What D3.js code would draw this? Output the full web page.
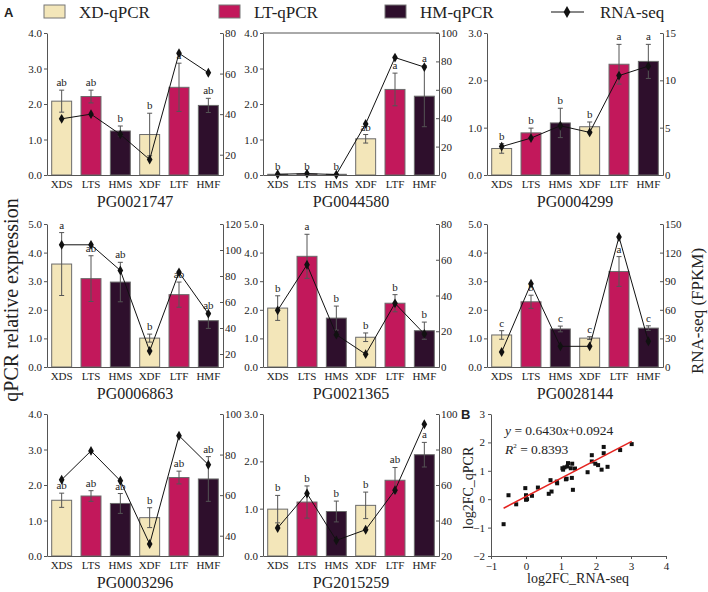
<!DOCTYPE html>
<html>
<head>
<meta charset="utf-8">
<script src="https://cdn.jsdelivr.net/npm/d3@7"></script>
<style>
  html, body { margin: 0; padding: 0; background: #fff; }
  svg text { font-family: "Liberation Serif", "Times New Roman", Times, serif; fill: #222; }
</style>
</head>
<body>
<div id="chart"></div>
<script>
// sample groups and gene panels
const categories = ["XDS", "LTS", "HMS", "XDF", "LTF", "HMF"]
const genes = ["PG0021747", "PG0044580", "PG0004299", "PG0006863", "PG0021365", "PG0028144", "PG0003296", "PG2015259"]

// qPCR relative expression (bars) and their error bars
const qpcrMeans = [
  [2.08, 2.21, 1.24, 1.14, 2.47, 1.96],
  [0.02, 0.03, 0.02, 1.02, 2.41, 2.22],
  [0.56, 0.89, 1.10, 1.02, 2.34, 2.40],
  [3.60, 3.09, 2.97, 1.01, 2.53, 1.62],
  [2.06, 3.87, 1.71, 1.04, 2.23, 1.27],
  [1.12, 2.28, 1.33, 1.01, 3.34, 1.36],
  [1.57, 1.69, 1.48, 1.08, 2.21, 2.17],
  [0.99, 1.14, 0.94, 1.07, 1.60, 2.14]
]
const qpcrErrors = [
  [0.31, 0.18, 0.14, 0.60, 0.68, 0.20],
  [0.00, 0.00, 0.00, 0.12, 0.46, 0.86],
  [0.10, 0.10, 0.31, 0.10, 0.42, 0.36],
  [1.10, 0.80, 0.69, 0.14, 0.44, 0.27],
  [0.43, 0.77, 0.42, 0.15, 0.30, 0.30],
  [0.15, 0.23, 0.10, 0.05, 0.52, 0.08],
  [0.20, 0.15, 0.28, 0.28, 0.18, 0.63],
  [0.29, 0.34, 0.22, 0.28, 0.27, 0.26]
]
const sigLetters = [
  ["ab", "ab", "b", "b", "a", "ab"],
  ["b", "b", "b", "ab", "a", "a"],
  ["b", "b", "b", "b", "a", "a"],
  ["a", "ab", "ab", "b", "ab", "ab"],
  ["b", "a", "b", "b", "b", "b"],
  ["c", "b", "c", "c", "a", "c"],
  ["ab", "ab", "ab", "b", "ab", "ab"],
  ["b", "b", "b", "b", "ab", "a"]
]

// RNA-seq FPKM (line)
const rnaSeq = [
  [37.7, 40.0, 30.0, 17.6, 70.0, 60.4],
  [0.5, 1.0, 0.3, 36.0, 82.7, 76.0],
  [3.0, 3.9, 5.2, 4.5, 10.5, 11.5],
  [104, 104, 84.3, 22.3, 82.8, 51.0],
  [31.7, 57.2, 18.1, 7.2, 35.6, 18.5],
  [15.7, 87.4, 21.7, 21.7, 136.4, 27.0],
  [67.6, 81.8, 67.1, 35.9, 89.3, 75.0],
  [35.8, 55.2, 28.8, 34.8, 57.1, 94.2]
]

// axis ranges and tick labels
const leftTicks = [
  [0, 1, 2, 3, 4], [0, 1, 2, 3, 4], [0, 1, 2, 3],
  [0, 1, 2, 3, 4, 5], [0, 1, 2, 3, 4, 5], [0, 1, 2, 3, 4, 5],
  [0, 1, 2, 3, 4], [0, 1, 2, 3]
]
const rightRanges = [[10, 80], [0, 100], [0, 15], [10, 120], [0, 80], [0, 150], [30, 100], [20, 100]]
const rightTicks = [
  [20, 40, 60, 80], [0, 20, 40, 60, 80, 100], [0, 5, 10, 15],
  [20, 40, 60, 80, 100, 120], [0, 20, 40, 60, 80], [0, 30, 60, 90, 120, 150],
  [40, 60, 80, 100], [20, 40, 60, 80, 100]
]

// panel B: log2 fold changes
const scatterRna = [-0.64, -0.50, -0.28, -0.02, 0.00, 0.00, 0.03, 0.17, 0.34, 0.65, 0.70, 0.73, 0.89, 0.88,
  1.04, 1.06, 1.10, 1.14, 1.16, 1.18, 1.20, 1.28, 1.31, 1.32, 1.34, 1.40, 1.76, 1.88, 1.88, 1.98, 2.06,
  2.16, 2.22, 2.22, 2.33, 2.69, 3.02]
const scatterQpcr = [-0.88, 0.14, -0.18, 0.39, 0.14, -0.02, 0.00, 0.12, 0.41, 0.19, 0.67, 0.27, 0.56, 0.62,
  1.09, 1.04, 1.12, 0.70, 0.72, 1.15, 1.27, 1.09, 0.75, 1.25, 0.33, 1.08, 0.95, 1.55, 1.33, 1.25, 1.20,
  1.04, 1.84, 1.62, 1.14, 1.73, 1.94]
const fitSlope = 0.6430
const fitIntercept = 0.0924

const groupColors = ["#f3e6b9", "#c2185b", "#2e0f2c"]
const legendItems = ["XD-qPCR", "LT-qPCR", "HM-qPCR"]

const SERIF = "'Liberation Serif', 'Times New Roman', Times, serif"
const width = 708
const height = 592

const svg = d3.select("#chart")
  .append("svg")
  .attr("width", width)
  .attr("height", height)

const colX = [47, 263, 487]
const rowY = [[33, 175], [224, 367], [414, 556]]
const panelW = 176

function styleAxis(ax, size) {
  ax.attr("font-family", null)
  ax.selectAll("text")
    .style("font-size", size)
    .style("font-family", SERIF)
    .attr("fill", "#333")
  ax.selectAll("line, path").attr("stroke", "#555")
}

// Legend
svg.append("text")
  .attr("x", 4).attr("y", 17)
  .style("font-family", "'Liberation Sans', Arial, sans-serif")
  .style("font-weight", "bold").style("font-size", "13px")
  .text("A")

const legendX = [44, 219, 385]
legendItems.forEach((name, i) => {
  svg.append("rect")
    .attr("x", legendX[i]).attr("y", 5)
    .attr("width", 21).attr("height", 13)
    .attr("fill", groupColors[i])
    .attr("stroke", "#777").attr("stroke-width", 1)
  svg.append("text")
    .attr("x", legendX[i] + 35).attr("y", 18)
    .style("font-size", "17px")
    .text(name)
})
svg.append("line")
  .attr("x1", 551).attr("x2", 584).attr("y1", 12).attr("y2", 12)
  .attr("stroke", "#111").attr("stroke-width", 1.2)
svg.append("path")
  .attr("transform", "translate(567,12)")
  .attr("d", d3.symbol(d3.symbolDiamond, 40)())
  .attr("fill", "#111")
svg.append("text")
  .attr("x", 600).attr("y", 18)
  .style("font-size", "17px")
  .text("RNA-seq")

// Bar + line panels
genes.forEach((gene, i) => {
  const col = i % 3
  const row = Math.floor(i / 3)
  const x0 = colX[col]
  const [top, bottom] = rowY[row]

  const x = d3.scaleBand()
    .domain(categories)
    .range([x0, x0 + panelW])
    .paddingInner(0.32)
    .paddingOuter(0.16)

  const ticksL = leftTicks[i]
  const yL = d3.scaleLinear()
    .domain([0, ticksL[ticksL.length - 1]])
    .range([bottom, top])

  const yR = d3.scaleLinear()
    .domain(rightRanges[i])
    .range([bottom, top])

  const g = svg.append("g")

  // bars
  g.selectAll("rect.bar")
    .data(categories)
    .join("rect")
    .attr("class", "bar")
    .attr("x", d => x(d))
    .attr("width", x.bandwidth())
    .attr("y", (d, j) => yL(qpcrMeans[i][j]))
    .attr("height", (d, j) => yL(0) - yL(qpcrMeans[i][j]))
    .attr("fill", (d, j) => groupColors[j % 3])
    .attr("stroke", "#6b6b6b")
    .attr("stroke-width", 1)

  // error bars
  const errG = g.append("g").attr("stroke", "#555").attr("stroke-width", 1)
  categories.forEach((c, j) => {
    const e = qpcrErrors[i][j]
    if (e <= 0) return
    const cx = x(c) + x.bandwidth() / 2
    const hi = yL(qpcrMeans[i][j] + e)
    const lo = yL(Math.max(0, qpcrMeans[i][j] - e))
    errG.append("line").attr("x1", cx).attr("x2", cx).attr("y1", hi).attr("y2", lo)
    errG.append("line").attr("x1", cx - 2.5).attr("x2", cx + 2.5).attr("y1", hi).attr("y2", hi)
    errG.append("line").attr("x1", cx - 2.5).attr("x2", cx + 2.5).attr("y1", lo).attr("y2", lo)
  })

  // significance letters
  g.selectAll("text.sig")
    .data(categories)
    .join("text")
    .attr("class", "sig")
    .attr("x", d => x(d) + x.bandwidth() / 2)
    .attr("y", (d, j) => yL(qpcrMeans[i][j] + qpcrErrors[i][j]) - 4)
    .attr("text-anchor", "middle")
    .style("font-size", "11px")
    .text((d, j) => sigLetters[i][j])

  // RNA-seq line
  const line = d3.line()
    .x((d, j) => x(categories[j]) + x.bandwidth() / 2)
    .y(d => yR(d))
  g.append("path")
    .datum(rnaSeq[i])
    .attr("d", line)
    .attr("fill", "none")
    .attr("stroke", "#111")
    .attr("stroke-width", 1)
  g.selectAll("path.pt")
    .data(rnaSeq[i])
    .join("path")
    .attr("class", "pt")
    .attr("transform", (d, j) => `translate(${x(categories[j]) + x.bandwidth() / 2},${yR(d)})`)
    .attr("d", d3.symbol(d3.symbolDiamond, 28)())
    .attr("fill", "#111")

  // axes: left ticks point out, right ticks point in
  const axL = g.append("g")
    .attr("transform", `translate(${x0},0)`)
    .call(d3.axisLeft(yL).tickValues(ticksL).tickFormat(d3.format(".1f")).tickSizeInner(3).tickSizeOuter(0).tickPadding(2))
  const axR = g.append("g")
    .attr("transform", `translate(${x0 + panelW},0)`)
    .call(d3.axisRight(yR).tickValues(rightTicks[i]).tickSizeInner(-3).tickSizeOuter(0).tickPadding(2))
  const axB = g.append("g")
    .attr("transform", `translate(0,${bottom})`)
    .call(d3.axisBottom(x).tickSize(0).tickPadding(5))

  styleAxis(axL, "11px")
  styleAxis(axR, "11px")
  styleAxis(axB, "11px")
  axB.selectAll("text").attr("fill", "#222")

  // second panel is boxed on top
  if (i === 1) {
    g.append("line")
      .attr("x1", x0).attr("x2", x0 + panelW)
      .attr("y1", top).attr("y2", top)
      .attr("stroke", "#555")
  }

  g.append("text")
    .attr("x", x0 + panelW / 2)
    .attr("y", bottom + 32)
    .attr("text-anchor", "middle")
    .style("font-size", "16px")
    .text(gene)
})

// shared axis titles
svg.append("text")
  .attr("transform", "translate(18,300) rotate(-90)")
  .attr("text-anchor", "middle")
  .style("font-size", "20px")
  .text("qPCR relative expression")
svg.append("text")
  .attr("transform", "translate(703,311) rotate(-90)")
  .attr("text-anchor", "middle")
  .style("font-size", "17px")
  .text("RNA-seq (FPKM)")

// Panel B scatter
const sx = d3.scaleLinear().domain([-1, 4]).range([491, 666])
const sy = d3.scaleLinear().domain([-2, 3]).range([556, 414])
const sg = svg.append("g")

const axX = sg.append("g")
  .attr("transform", "translate(0,556)")
  .call(d3.axisBottom(sx).ticks(5).tickSizeInner(3).tickSizeOuter(0).tickPadding(3))
const axY = sg.append("g")
  .attr("transform", "translate(491,0)")
  .call(d3.axisLeft(sy).ticks(5).tickSizeInner(3).tickSizeOuter(0).tickPadding(3))
styleAxis(axX, "11px")
styleAxis(axY, "11px")

sg.selectAll("rect.pt")
  .data(scatterRna)
  .join("rect")
  .attr("class", "pt")
  .attr("x", d => sx(d) - 2)
  .attr("y", (d, j) => sy(scatterQpcr[j]) - 2)
  .attr("width", 4)
  .attr("height", 4)
  .attr("fill", "#111")

const [fx0, fx1] = d3.extent(scatterRna)
sg.append("line")
  .attr("x1", sx(fx0)).attr("y1", sy(fitSlope * fx0 + fitIntercept))
  .attr("x2", sx(fx1)).attr("y2", sy(fitSlope * fx1 + fitIntercept))
  .attr("stroke", "#e4231f")
  .attr("stroke-width", 1.5)

const eq = sg.append("text").attr("x", 505).attr("y", 435).style("font-size", "13.5px")
eq.append("tspan").style("font-style", "italic").text("y")
eq.append("tspan").text(" = 0.6430")
eq.append("tspan").style("font-style", "italic").text("x")
eq.append("tspan").text("+0.0924")

const r2 = sg.append("text").attr("x", 505).attr("y", 454).style("font-size", "13.5px")
r2.append("tspan").style("font-style", "italic").text("R")
r2.append("tspan").attr("dy", -6).style("font-size", "7px").text("2")
r2.append("tspan").attr("dy", 6).text(" = 0.8393")

sg.append("text")
  .attr("x", 461).attr("y", 419)
  .style("font-family", "'Liberation Sans', Arial, sans-serif")
  .style("font-weight", "bold").style("font-size", "13px")
  .text("B")

sg.append("text")
  .attr("transform", "translate(473,488) rotate(-90)")
  .attr("text-anchor", "middle")
  .style("font-size", "14px")
  .text("log2FC_qPCR")
sg.append("text")
  .attr("x", 578).attr("y", 583)
  .attr("text-anchor", "middle")
  .style("font-size", "14px")
  .text("log2FC_RNA-seq")
</script>
</body>
</html>
